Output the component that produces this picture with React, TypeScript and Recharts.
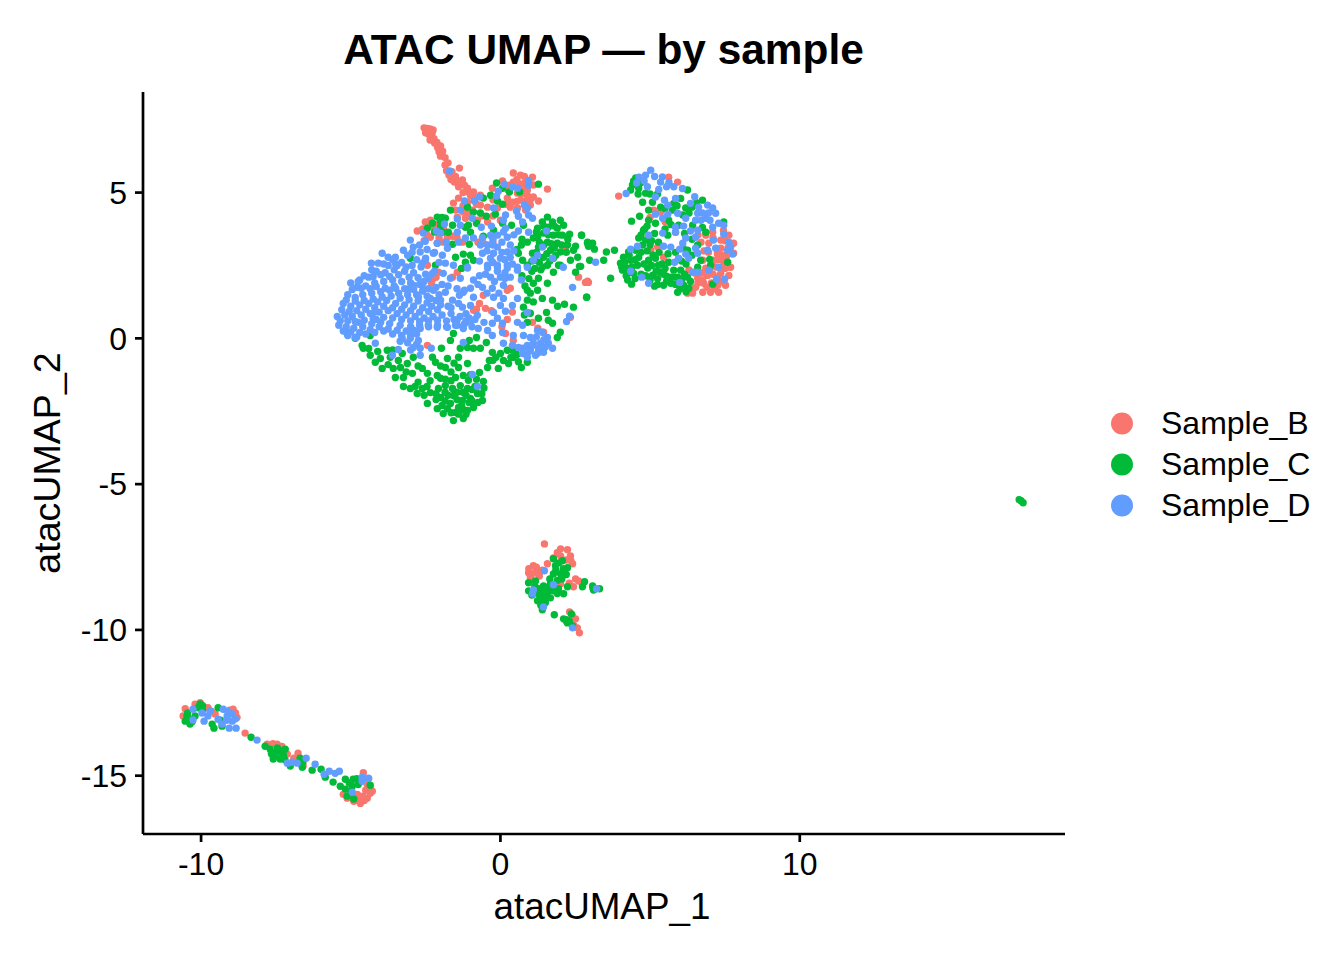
import React from "react";
import { ScatterChart, Scatter, XAxis, YAxis } from "recharts";

type P = [number, number];

const FONT = '"Liberation Sans", Arial, sans-serif';
const seriesNames = ["Sample_B", "Sample_C", "Sample_D"];
const seriesColors = ["#F8766D", "#00BA38", "#619CFF"];
const xTicks = [-10, 0, 10];
const yTicks = [-15, -10, -5, 0, 5];
const xDomain = [-11.94, 18.86];
const yDomain = [-17.0, 8.45];

// Sample_B
const bTail: P[] = [[-2.55,7.22],[-2.45,7.2],[-2.35,7.18],[-2.25,7.15],[-2.5,7.05],[-2.4,7.0],[-2.3,6.95],[-2.35,6.8],[-2.2,6.7],[-2.1,6.55],[-2.05,6.4],[-2.0,6.25],[-1.85,6.2],[-1.85,5.95],[-1.8,5.75],[-1.72,5.6],[-1.37,5.84],[-1.65,5.45],[-1.54,5.36],[-1.27,5.43],[-1.4,5.2],[-1.1,5.15],[-1.25,5.0],[-0.9,5.02],[-2.28,7.05],[-2.22,6.85],[-2.12,6.72],[-2.0,6.6],[-1.93,6.42],[-1.75,6.02],[-1.62,5.72],[-1.5,5.55],[-1.42,5.38],[-1.2,5.25],[-1.05,5.0]];
const bTop: P[] = [[0.43,5.67],[0.67,5.6],[1.07,5.53],[0.07,5.4],[1.57,5.12],[0.84,5.36],[0.43,5.36],[1.1,5.26],[0.9,5.09],[0.57,4.98],[0.23,4.81],[-0.27,5.15],[0.4,4.67],[0.67,4.74],[1.1,4.85],[1.27,4.71],[1.0,4.57],[0.57,4.47],[0.33,4.5],[0.84,4.4],[0.25,5.1],[0.75,5.15],[-0.9,4.85],[-0.67,4.91],[-1.4,4.81],[-1.1,4.67],[-1.57,4.64],[-0.67,4.57],[-0.43,4.5],[-1.24,4.33],[-0.94,4.4],[-0.1,4.47],[-1.44,4.16],[-2.34,4.05],[-2.51,3.99],[-2.78,3.68],[-1.17,4.12],[-0.77,4.05],[-0.43,3.99],[0.0,4.05],[-1.77,3.47],[-1.6,3.5],[-1.27,3.3],[-1.91,3.3],[-2.34,3.47],[-2.11,3.26],[-0.57,3.26],[2.17,3.02],[-2.6,3.75],[-2.2,3.8],[0.55,5.45],[0.8,5.55],[0.95,5.42],[0.65,5.3],[0.3,5.25],[0.9,4.9],[0.7,4.95],[1.0,4.75],[0.8,4.7],[0.55,4.7],[0.85,4.55],[0.2,4.6],[-0.25,4.75],[-1.0,4.9],[-1.25,4.55],[-0.8,4.6],[-1.5,4.4],[-1.05,4.3],[-0.6,4.2],[-0.25,4.2],[-2.4,3.85],[-2.15,3.9],[-1.9,3.75],[-2.45,3.55],[-2.55,3.35],[-2.05,3.45],[-1.45,3.45],[-0.75,3.3],[-0.25,3.3]];
const bMid: P[] = [[-2.24,2.06],[-2.07,2.27],[-1.44,2.27],[-2.44,2.51],[0.23,1.65],[0.33,1.72],[-0.57,1.48],[-0.5,1.03],[-0.9,0.96],[0.23,0.65],[1.07,0.55],[1.44,0.21],[0.17,0.17],[0.43,-0.07],[-2.44,-0.24],[2.88,1.92],[2.94,1.92],[2.61,2.1],[2.34,0.72],[-2.3,1.9],[-0.3,0.95],[0.4,0.9],[1.25,0.35],[-2.15,2.1],[-1.6,2.1],[-0.7,1.2],[-0.8,1.0],[0.05,0.4]];
const bRight: P[] = [[6.52,1.75],[6.42,1.55],[6.76,1.58],[7.02,1.58],[7.29,1.58],[6.59,2.06],[6.79,1.89],[6.92,2.16],[7.26,1.82],[7.52,1.82],[7.63,2.16],[7.36,2.23],[7.69,2.44],[7.46,2.61],[7.12,2.68],[6.86,2.41],[6.52,2.23],[6.76,2.68],[6.86,3.54],[7.09,3.64],[7.36,3.37],[7.63,3.54],[7.79,3.26],[7.79,2.92],[7.36,3.09],[6.96,3.26],[7.1,2.2],[6.75,2.0],[7.05,1.9],[7.5,2.4],[7.2,2.45],[5.62,5.53],[5.92,5.36],[5.35,4.33],[5.12,4.4],[5.85,3.64],[5.25,3.13],[5.02,3.02],[5.45,2.78],[3.95,4.88],[2.84,1.92],[2.91,1.96],[6.25,1.55],[6.4,1.7],[7.45,3.7],[7.6,3.1],[6.7,3.3],[6.6,1.9],[6.9,1.75],[7.15,1.7],[7.4,1.95],[7.25,2.1],[6.75,2.25],[7.0,2.4],[7.3,2.7],[7.55,2.8],[7.6,2.45],[6.95,2.95],[7.25,2.9],[7.45,2.85],[7.1,3.45],[7.5,3.35],[6.8,3.0],[6.6,3.55],[5.5,4.0],[5.0,4.15],[6.3,2.35]];
const bSmall: P[] = [[1.47,-7.05],[2.01,-7.22],[2.24,-7.25],[2.34,-7.46],[1.77,-7.53],[2.01,-7.46],[2.41,-7.73],[1.1,-7.8],[0.94,-8.04],[1.24,-7.97],[1.0,-8.2],[1.57,-7.73],[1.3,-8.15],[2.51,-8.25],[2.74,-8.42],[2.44,-8.52],[2.61,-8.32],[2.01,-8.42],[2.31,-9.38],[2.51,-9.62],[2.57,-9.93],[2.64,-10.1],[2.2,-9.7],[3.08,-8.55],[2.2,-7.6],[2.35,-7.62],[1.9,-7.35],[1.2,-7.85],[1.4,-7.95],[0.95,-7.9],[1.15,-8.05],[2.3,-8.4],[2.45,-9.85],[2.4,-9.5]];
const bStrand: P[] = [[-10.03,-12.5],[-10.53,-12.7],[-10.6,-12.95],[-9.77,-12.67],[-9.53,-12.88],[-8.93,-12.72],[-8.8,-13.0],[-8.53,-13.54],[-7.79,-13.92],[-7.46,-13.92],[-7.12,-14.26],[-6.76,-14.23],[-6.59,-14.67],[-5.12,-15.77],[-4.9,-15.88],[-4.68,-15.95],[-4.45,-15.77],[-4.28,-15.53],[-4.58,-14.9],[-4.45,-15.3],[-4.35,-15.6],[-4.78,-15.64],[-5.25,-15.64],[-4.6,-15.7],[-10.2,-12.55],[-9.65,-12.8],[-9.05,-12.75],[-8.85,-12.85],[-7.6,-13.9],[-7.3,-14.0],[-6.9,-14.4],[-6.7,-14.5],[-5.0,-15.7],[-4.75,-15.85],[-4.55,-15.85],[-4.35,-15.45],[-4.4,-15.1],[-4.5,-15.5]];
const sampleB: P[] = [...bTail, ...bTop, ...bMid, ...bRight, ...bSmall, ...bStrand];

// Sample_C
const cBottom: P[] = [[-1.57,-2.82],[-1.24,-2.75],[-1.91,-2.58],[-2.11,-2.41],[-2.44,-2.23],[-2.78,-1.89],[-3.24,-1.65],[-3.01,-1.72],[-2.61,-1.72],[-2.34,-1.86],[-2.0,-2.03],[-1.67,-2.23],[-1.4,-2.37],[-1.1,-2.47],[-0.9,-2.37],[-0.6,-2.13],[-0.77,-1.89],[-1.0,-2.06],[-1.27,-2.13],[-1.57,-1.96],[-1.77,-2.41],[-1.5,-2.54],[-1.24,-2.44],[-2.07,-1.72],[-1.84,-1.62],[-1.6,-1.72],[-2.0,-1.37],[-2.11,-1.27],[-1.84,-1.4],[-1.34,-1.62],[-1.1,-1.72],[-1.07,-1.44],[-1.24,-1.27],[-1.5,-1.34],[-0.57,-1.48],[-0.7,-1.17],[-0.8,-1.4],[-1.1,-0.86],[-1.4,-1.0],[-1.4,-0.65],[-1.77,-0.69],[-1.84,-1.0],[-2.27,-0.65],[-2.17,-0.82],[-2.61,-1.03],[-2.44,-1.2],[-2.94,-1.2],[-3.24,-1.34],[-3.51,-1.34],[-3.58,-1.03],[-3.95,-1.03],[-4.18,-0.82],[-4.35,-0.58],[-4.58,-0.34],[-4.62,-0.24],[-4.01,-0.69],[-3.41,-0.76],[-3.11,-0.86],[-3.34,-1.0],[-3.68,-0.65],[-3.78,-0.41],[-3.28,-0.52],[-2.91,-0.65],[-1.97,-0.34],[-1.67,-0.07],[-1.57,0.17],[-1.34,-0.34],[-1.1,-0.31],[-0.9,-0.34],[-0.67,-0.34],[-1.04,-0.07],[-0.8,0.03],[-0.47,-0.14],[-0.27,-0.48],[-0.37,-0.76],[-0.07,-1.03],[-0.43,-1.0],[0.0,-0.52],[0.23,-0.41],[0.1,-0.76],[0.27,-0.86],[0.43,-0.65],[0.7,-1.0],[0.4,-0.41],[0.9,-0.82],[-5.12,0.17],[-4.85,0.0],[-4.35,0.1],[-2.35,-1.45],[-2.75,-1.5],[-2.15,-2.1],[-1.85,-2.15],[-1.05,-2.2],[-1.45,-2.1],[-0.85,-1.65],[-1.65,-1.45],[-2.45,-1.65],[-1.4,-2.6],[-1.65,-2.55],[-1.95,-2.3],[-1.3,-2.3],[-1.15,-2.6],[-0.95,-2.15],[-0.75,-2.2],[-0.62,-1.9],[-1.15,-1.95],[-1.45,-1.85],[-1.75,-1.95],[-2.15,-1.9],[-2.55,-1.95],[-2.85,-1.65],[-1.85,-1.85],[-1.25,-1.85],[-0.95,-1.75],[-0.55,-1.7],[-1.0,-1.25],[-1.65,-1.15],[-1.55,-0.85],[-2.0,-0.95],[-2.75,-0.95],[-3.15,-1.15],[-3.75,-0.9],[-3.6,-0.4],[-4.1,-0.45],[-4.4,-0.35],[-0.25,-0.75],[0.55,-0.55],[0.35,-0.65],[0.6,-0.8],[-0.15,-0.65]];
const cStream: P[] = [[0.9,1.31],[1.0,1.55],[1.24,1.65],[1.1,1.89],[1.4,1.37],[1.74,1.31],[1.91,1.1],[2.14,1.17],[2.44,1.07],[1.54,0.89],[1.27,0.69],[1.6,0.62],[1.74,0.52],[2.0,0.21],[1.9,0.03],[1.0,0.86],[0.77,1.07],[0.9,0.55],[1.57,1.89],[1.27,2.06],[1.77,2.27],[2.0,2.51],[2.34,2.68],[2.51,2.27],[2.88,1.41],[0.82,1.8],[1.05,2.3],[0.72,2.15],[1.35,2.35],[0.95,2.05],[0.9,1.65],[1.1,1.25],[0.8,0.8]];
const cBlob: P[] = [[1.57,4.16],[1.4,3.99],[1.74,3.99],[2.0,4.05],[2.11,3.88],[1.6,3.81],[1.9,3.78],[1.24,3.78],[1.44,3.61],[1.77,3.54],[2.07,3.54],[2.31,3.57],[1.1,3.44],[1.57,3.3],[1.9,3.26],[2.24,3.2],[2.51,3.16],[2.44,3.02],[0.9,3.3],[1.27,3.13],[1.67,3.02],[2.0,2.96],[1.07,2.92],[1.44,2.78],[1.77,2.75],[2.58,2.78],[1.14,2.68],[1.57,2.51],[0.9,2.51],[1.94,2.51],[2.64,2.47],[2.71,3.54],[2.91,3.26],[1.25,3.5],[1.8,3.1],[1.45,3.2],[1.15,2.4],[1.45,3.85],[1.8,3.85],[1.6,3.55],[1.95,3.55],[1.3,3.3],[1.7,3.25],[2.05,3.2],[1.2,2.95],[1.55,2.9],[1.85,2.85],[1.3,2.6],[1.65,2.65],[1.4,2.45],[1.05,2.65],[1.2,3.65],[2.25,3.4],[2.2,2.95]];
const cTop: P[] = [[-0.13,5.33],[1.27,5.29],[0.64,5.02],[0.3,5.02],[0.07,5.15],[-0.33,4.91],[-0.57,4.81],[-0.1,4.71],[0.07,4.6],[-1.1,4.5],[-1.67,4.4],[-0.9,4.33],[-0.67,4.3],[-0.47,4.19],[-0.17,4.26],[-1.84,4.12],[-2.11,4.16],[-2.27,3.95],[-2.44,3.78],[-0.8,3.95],[-1.07,3.88],[-1.6,3.88],[0.37,3.88],[0.07,3.95],[0.77,3.88],[-1.94,3.64],[-1.74,3.64],[-1.17,3.81],[-0.57,3.5],[-1.0,3.64],[-0.23,3.71],[-1.6,3.23],[-1.04,3.23],[-1.5,2.78],[-1.24,2.89],[-1.17,2.61],[-0.9,2.68],[-2.17,2.51],[-3.01,2.75],[0.6,2.92],[0.74,2.68],[-2.0,4.0],[-2.2,3.65],[-2.0,3.85],[-1.95,4.15],[-1.3,2.4],[-1.0,2.85],[0.7,3.2],[0.72,3.4],[0.55,3.05]];
const cRight: P[] = [[4.01,2.58],[4.11,2.78],[4.08,2.34],[4.28,2.96],[4.35,2.68],[4.25,2.41],[4.45,2.23],[4.58,2.51],[4.62,2.78],[4.52,3.02],[4.75,3.2],[4.62,3.44],[4.85,3.37],[4.78,3.71],[4.95,2.68],[4.92,2.41],[5.08,2.16],[5.18,2.75],[5.28,2.51],[5.35,2.27],[5.55,2.13],[5.62,2.61],[5.79,2.34],[5.69,1.89],[5.92,2.1],[6.02,2.34],[6.12,1.82],[6.29,1.72],[5.92,1.58],[6.25,2.1],[5.15,1.79],[5.45,1.82],[4.38,1.86],[3.68,2.06],[3.81,3.02],[3.54,2.96],[3.45,2.68],[3.14,3.06],[3.08,3.26],[2.91,3.3],[2.94,3.16],[2.98,2.68],[2.88,1.41],[2.71,3.54],[2.68,2.47],[4.52,5.5],[4.41,5.26],[4.35,5.09],[4.62,5.15],[4.85,4.98],[4.75,4.67],[5.08,4.67],[4.95,4.4],[4.65,4.19],[4.38,4.02],[4.95,4.05],[4.82,3.75],[5.18,3.95],[5.35,4.5],[5.62,4.05],[5.79,4.63],[6.02,4.8],[6.25,5.09],[6.19,4.47],[6.09,4.23],[5.95,3.88],[5.59,3.54],[5.28,3.3],[6.42,3.88],[6.75,4.74],[6.86,3.64],[6.59,3.2],[6.25,3.02],[7.46,3.99],[6.69,2.68],[6.99,2.71],[7.02,2.51],[7.59,2.61],[6.59,2.44],[7.09,1.86],[4.3,2.25],[4.15,2.6],[4.4,2.45],[4.2,2.15],[4.7,2.2],[4.8,2.55],[5.0,2.0],[5.4,2.55],[5.7,2.1],[6.05,2.0],[4.05,2.45],[4.5,2.7],[4.3,2.85],[4.5,2.05],[4.25,2.0],[4.7,2.95],[4.9,3.0],[5.05,2.5],[5.1,2.85],[4.85,2.15],[5.25,2.05],[5.5,2.4],[5.8,2.1],[6.15,2.2],[6.0,1.7],[6.35,1.95],[5.55,1.95],[5.25,1.85],[4.45,5.4],[4.7,5.35],[4.6,4.95],[5.0,4.95],[5.25,4.95],[5.5,4.45],[5.75,4.4],[5.9,4.55],[6.3,4.3],[6.4,4.5],[6.55,4.65],[5.7,3.9],[5.5,3.75],[5.15,3.6],[6.15,3.6],[6.75,3.8],[6.4,3.4],[6.1,3.1],[6.4,2.85],[6.05,2.65],[4.9,3.85],[5.05,3.35],[5.0,3.2],[4.7,3.55],[5.3,2.95],[5.6,2.9],[5.85,2.95],[6.2,2.55],[5.45,2.2],[5.85,1.85],[6.2,1.6],[5.2,2.3]];
const cSmall: P[] = [[1.77,-7.56],[2.07,-7.63],[2.24,-7.87],[1.84,-7.8],[2.01,-8.08],[1.77,-8.08],[2.2,-8.1],[0.94,-8.38],[1.17,-8.32],[1.44,-8.49],[1.67,-8.42],[1.27,-8.59],[1.57,-8.73],[1.77,-8.66],[1.94,-8.59],[0.94,-8.66],[1.34,-8.83],[1.67,-8.9],[1.24,-9.0],[1.5,-9.07],[2.11,-8.76],[2.24,-8.52],[2.74,-8.52],[2.81,-8.35],[3.08,-8.49],[3.11,-8.63],[3.31,-8.59],[1.4,-9.31],[1.8,-9.48],[2.37,-9.45],[2.11,-9.62],[2.24,-9.76],[2.41,-9.86],[1.45,-8.75],[1.9,-8.3],[1.25,-8.75],[1.85,-7.95],[2.1,-7.9],[1.95,-7.7],[2.05,-8.25],[1.65,-8.25],[1.4,-8.65],[1.55,-8.9],[1.35,-9.0],[1.15,-8.5],[1.05,-8.8],[1.35,-9.15],[1.75,-8.5],[1.9,-8.75],[1.55,-8.55],[2.2,-9.65],[2.3,-9.7]];
const cStrand: P[] = [[-10.03,-12.54],[-10.47,-12.95],[-10.53,-13.13],[-10.37,-13.23],[-10.2,-12.95],[-10.1,-12.67],[-9.43,-12.67],[-9.63,-13.23],[-9.57,-13.37],[-9.3,-13.3],[-8.33,-13.68],[-7.86,-13.99],[-7.69,-14.09],[-7.53,-14.23],[-7.36,-14.16],[-7.19,-14.09],[-7.59,-14.43],[-7.36,-14.43],[-7.02,-14.67],[-6.69,-14.4],[-6.62,-14.71],[-6.29,-14.81],[-5.99,-14.78],[-5.85,-15.05],[-5.59,-15.22],[-5.35,-15.36],[-5.18,-15.46],[-5.18,-15.12],[-4.92,-15.12],[-4.95,-15.36],[-4.75,-15.3],[-4.35,-15.33],[-4.9,-15.8],[-5.12,-15.7],[17.39,-5.57],[17.33,-5.53],[17.46,-5.64],[-10.4,-13.05],[-10.3,-13.15],[-10.45,-12.85],[-9.95,-12.6],[-9.95,-12.75],[-9.35,-13.1],[-7.5,-14.3],[-7.25,-14.3],[-7.45,-14.05],[-7.65,-14.25],[-7.2,-14.45],[-6.6,-14.55],[-5.05,-15.25],[-4.8,-15.1],[-5.0,-15.55],[-4.7,-15.2]];
const sampleC: P[] = [...cBottom, ...cStream, ...cBlob, ...cTop, ...cRight, ...cSmall, ...cStrand];

// Sample_D
const dLeft: P[] = [[-3.1,2.85],[-2.8,2.7],[-3.6,2.7],[-3.3,2.6],[-2.5,2.75],[-2.2,2.95],[-2.05,2.6],[-3.9,2.55],[-2.65,2.45],[-4.7,2.0],[-4.4,2.1],[-4.15,2.3],[-3.85,2.25],[-3.55,2.35],[-3.2,2.3],[-2.9,2.25],[-2.5,2.2],[-2.2,2.3],[-5.0,1.9],[-4.8,1.75],[-4.5,1.8],[-4.2,1.9],[-3.9,1.95],[-3.6,2.0],[-3.3,1.95],[-3.0,1.9],[-2.7,1.85],[-5.1,1.5],[-4.85,1.4],[-4.6,1.5],[-4.3,1.55],[-4.0,1.6],[-3.7,1.65],[-3.4,1.55],[-3.1,1.5],[-2.8,1.5],[-2.45,1.45],[-5.25,1.2],[-5.0,1.1],[-4.7,1.15],[-4.4,1.2],[-4.1,1.25],[-3.8,1.3],[-3.5,1.2],[-3.2,1.15],[-2.9,1.1],[-2.6,1.05],[-2.3,1.1],[-2.0,1.15],[-5.45,0.75],[-5.2,0.8],[-4.95,0.75],[-4.65,0.8],[-4.35,0.85],[-4.05,0.9],[-3.75,0.95],[-3.45,0.85],[-3.15,0.8],[-2.85,0.75],[-2.55,0.7],[-2.25,0.75],[-1.95,0.8],[-1.65,0.85],[-1.35,0.75],[-1.05,0.7],[-5.4,0.45],[-5.15,0.4],[-4.9,0.35],[-4.6,0.4],[-4.3,0.5],[-4.0,0.55],[-3.7,0.5],[-3.35,0.45],[-3.0,0.4],[-2.7,0.45],[-2.4,0.4],[-2.1,0.45],[-1.8,0.4],[-1.5,0.45],[-1.2,0.5],[-0.95,0.4],[-5.1,0.1],[-4.8,0.05],[-4.5,0.15],[-4.2,0.2],[-3.9,0.25],[-3.6,0.15],[-3.0,0.1],[-2.8,0.15],[-3.3,0.1],[-4.75,1.95],[-3.05,1.7],[-3.55,1.8],[-4.2,1.05],[-4.75,0.55],[-4.15,0.65],[-4.55,2.15],[-4.25,2.12],[-4.0,2.18],[-3.7,2.12],[-3.4,2.18],[-3.05,2.1],[-2.75,2.08],[-4.95,1.68],[-4.65,1.72],[-4.35,1.7],[-4.15,1.78],[-3.85,1.72],[-3.5,1.72],[-3.2,1.7],[-2.9,1.68],[-2.6,1.62],[-5.15,1.32],[-4.85,1.28],[-4.55,1.3],[-4.25,1.35],[-3.95,1.42],[-3.65,1.45],[-3.35,1.38],[-3.05,1.32],[-2.75,1.28],[-2.45,1.22],[-2.15,1.3],[-5.3,0.98],[-5.05,0.92],[-4.8,0.95],[-4.5,1.0],[-4.2,0.9],[-3.9,1.1],[-3.6,1.05],[-3.3,1.0],[-3.0,0.95],[-2.7,0.9],[-2.4,0.92],[-2.1,0.98],[-5.35,0.6],[-5.1,0.6],[-4.85,0.58],[-4.55,0.62],[-4.25,0.68],[-3.9,0.72],[-3.6,0.7],[-3.3,0.65],[-3.0,0.6],[-2.7,0.58],[-2.4,0.6],[-2.1,0.62],[-1.8,0.6],[-1.45,0.62],[-1.15,0.6],[-5.25,0.25],[-5.0,0.22],[-4.7,0.2],[-4.35,0.3],[-4.05,0.4],[-3.75,0.32],[-3.45,0.28],[-3.15,0.25],[-2.9,0.28],[-3.35,-0.1],[-3.1,-0.15],[-3.0,-0.4],[-2.8,-0.2],[-3.75,2.5],[-3.45,2.5],[-3.15,2.45],[-2.95,2.5],[-4.3,2.35],[-2.4,2.05],[-2.55,1.95],[-2.4,1.7],[-2.15,1.75],[-1.95,1.85],[-1.75,1.8]];
const dMidTop: P[] = [[-1.7,5.74],[0.94,5.4],[0.94,5.25],[0.13,5.29],[0.4,5.19],[0.57,5.15],[-0.07,5.05],[-0.13,4.88],[-0.7,4.85],[-0.87,4.71],[-1.2,4.71],[-0.23,4.47],[0.8,4.57],[0.9,4.47],[-1.34,4.4],[0.54,4.36],[0.17,4.23],[0.6,4.19],[0.94,4.23],[1.07,4.12],[0.74,3.99],[-0.94,4.12],[-1.44,4.09],[0.1,4.05],[-1.87,3.92],[-1.34,3.88],[-0.64,3.81],[-0.3,3.85],[0.17,3.78],[-2.14,3.68],[-1.44,3.64],[0.6,3.68],[0.94,3.64],[1.54,3.68],[-2.58,3.61],[-2.0,3.61],[-0.1,3.54],[-0.33,3.54],[0.23,3.47],[-1.17,3.44],[-0.9,3.44],[-3.01,3.37],[-2.51,3.33],[-2.11,3.26],[-1.81,3.3],[-1.4,3.3],[-2.91,3.13],[-1.77,3.09],[-0.67,3.2],[-0.1,3.13],[-0.43,3.2],[0.33,3.2],[1.4,3.13],[-3.24,3.02],[-2.68,2.96],[-2.24,2.92],[-1.94,2.85],[-0.6,2.92],[-0.23,2.92],[0.23,2.96],[1.24,2.85],[1.1,2.68],[1.74,2.75],[-3.95,2.92],[-3.75,2.78],[-3.51,2.78],[-2.51,2.68],[-1.84,2.58],[-0.33,2.75],[0.0,2.75],[0.33,2.78],[-0.43,2.51],[-0.1,2.51],[0.23,2.51],[-4.31,2.58],[-4.08,2.58],[0.57,2.44],[0.9,2.44],[2.1,2.44],[-1.57,2.51],[-1.1,2.44],[-0.25,3.2],[0.05,3.3],[0.15,2.7],[-0.25,2.6],[0.05,2.95],[-2.7,3.2],[-2.95,2.95],[-2.45,3.05],[-3.5,2.55],[-0.45,3.0],[-0.25,3.4],[0.45,3.0],[0.4,2.55],[-0.7,2.65],[0.1,3.65],[0.45,3.55],[-0.6,3.45]];
const dMidLow: P[] = [[-1.1,2.41],[-0.43,2.41],[-0.1,2.44],[0.23,2.41],[0.57,2.34],[-0.33,2.1],[0.0,2.1],[0.33,2.1],[0.7,2.0],[-0.9,2.0],[-1.34,2.06],[-1.67,2.06],[-1.91,2.23],[-2.61,2.58],[-2.27,2.23],[-1.0,1.72],[-0.6,1.75],[-0.27,1.72],[0.1,1.82],[-1.24,1.58],[-0.9,1.41],[-0.23,1.41],[0.1,1.37],[2.41,1.75],[-1.37,1.48],[-1.84,1.58],[-2.24,1.65],[-2.58,1.72],[-2.91,1.82],[-1.6,1.31],[-2.0,1.31],[-2.34,1.37],[-2.74,1.41],[0.57,1.37],[0.4,1.13],[0.0,1.13],[-1.27,1.07],[-1.0,1.13],[0.17,0.93],[-0.23,0.89],[0.9,0.89],[-0.77,0.79],[-0.1,0.69],[0.07,0.52],[-0.27,0.52],[0.57,0.55],[0.74,0.45],[-0.74,0.34],[-0.43,0.27],[-0.27,0.1],[0.07,0.2],[-1.0,0.55],[-1.24,0.34],[-1.44,0.45],[-1.77,0.38],[-2.11,0.38],[-2.41,0.45],[-2.68,0.34],[-2.94,0.21],[-2.74,-0.07],[-3.01,0.0],[-3.28,0.0],[-2.68,-0.34],[-2.91,-0.31],[-3.41,-0.38],[-4.18,-0.17],[-4.85,0.03],[-3.61,-0.58],[-2.68,-0.58],[-2.31,-0.34],[-1.24,-0.14],[-0.94,-1.24],[-0.77,-1.65],[0.1,-0.17],[0.4,-0.24],[0.6,-0.31],[0.77,0.1],[1.0,0.03],[1.24,0.27],[1.4,0.21],[0.43,0.1],[1.57,0.03],[0.9,-0.24],[1.1,-0.17],[1.34,-0.17],[1.6,-0.17],[1.74,-0.34],[1.44,-0.48],[1.17,-0.58],[0.9,-0.65],[0.74,-0.52],[0.74,-0.34],[1.0,-0.41],[1.27,-0.34],[2.31,0.76],[2.21,0.58],[-0.1,2.3],[0.15,2.25],[-0.5,2.2],[-0.75,1.85],[-0.45,1.55],[-1.45,1.7],[-2.05,1.5],[-1.75,1.1],[-1.4,1.2],[1.2,0.05],[1.45,-0.05],[1.05,-0.25],[1.25,-0.5],[0.95,-0.45],[1.5,-0.3],[-1.55,0.65],[-1.65,1.05],[-1.15,0.85],[-0.85,0.65],[-0.55,0.55],[-1.2,1.65],[-0.7,2.15],[-0.2,1.95],[0.15,2.05],[-0.05,1.55]];
const dRight: P[] = [[5.02,5.77],[4.85,5.6],[4.63,5.53],[4.55,5.33],[4.2,4.97],[5.41,5.54],[5.63,5.35],[5.35,5.36],[4.91,5.2],[5.29,5.11],[5.79,5.2],[6.08,5.14],[5.18,4.85],[5.48,4.74],[5.85,4.8],[6.49,4.86],[5.59,4.57],[6.35,4.63],[6.62,4.5],[6.92,4.57],[7.09,4.47],[7.19,4.29],[6.59,4.29],[5.92,4.29],[5.59,4.26],[5.18,4.26],[6.86,4.12],[6.52,4.05],[6.19,4.12],[5.42,4.12],[7.29,3.95],[7.09,3.81],[6.12,3.85],[5.85,3.81],[7.46,3.88],[6.59,3.71],[6.35,3.68],[5.85,3.64],[5.42,3.61],[4.95,3.54],[7.46,3.57],[6.52,3.47],[6.19,3.44],[7.12,3.37],[7.63,3.3],[6.09,3.26],[5.45,3.16],[5.69,3.13],[7.69,3.13],[6.52,3.09],[7.19,3.09],[5.99,3.06],[6.92,3.02],[6.59,2.92],[7.59,3.02],[4.35,3.06],[4.58,3.16],[6.19,2.89],[7.76,2.89],[5.95,2.75],[5.82,2.61],[6.29,2.75],[7.29,2.44],[6.96,2.34],[6.42,2.27],[6.59,2.27],[4.35,2.3],[4.72,2.1],[7.22,2.03],[7.49,2.03],[5.99,1.92],[4.95,1.89],[3.18,2.61],[5.15,5.55],[4.8,5.4],[5.55,5.2],[6.75,4.3],[6.95,4.3],[6.7,4.05],[7.0,4.05]];
const dSmall: P[] = [[1.47,-7.97],[1.77,-8.45],[1.1,-8.63],[1.07,-8.76],[1.44,-9.21],[3.21,-8.59],[2.41,-9.93]];
const dStrand: P[] = [[-10.27,-12.72],[-9.97,-12.85],[-10.27,-13.09],[-9.9,-13.13],[-9.7,-12.78],[-9.77,-12.95],[-9.43,-13.06],[-9.26,-12.72],[-9.13,-12.95],[-8.96,-12.88],[-9.3,-13.23],[-9.06,-13.37],[-8.83,-13.37],[-8.96,-13.13],[-8.85,-13.05],[-8.13,-13.78],[-7.12,-14.57],[-6.96,-14.54],[-6.79,-14.57],[-6.49,-14.4],[-6.19,-14.61],[-5.89,-14.95],[-5.72,-14.85],[-5.52,-14.92],[-5.38,-14.85],[-4.62,-15.19],[-4.62,-15.05],[-4.41,-15.09],[-4.95,-15.57],[-9.15,-13.1],[-9.1,-12.8]];
const sampleD: P[] = [...dLeft, ...dMidTop, ...dMidLow, ...dRight, ...dSmall, ...dStrand];

const seriesPoints: P[][] = [sampleB, sampleC, sampleD];

const toRows = (pts: P[]) => pts.map(([x, y]) => ({ x, y }));

const Dot = (color: string) => (props: any) => (
  <circle cx={props.cx} cy={props.cy} r={3.7} fill={color} />
);

const LegendBox = () => (
  <div style={{ position: "absolute", left: 1111, top: 402.5, fontFamily: FONT, fontSize: 32, color: "#000" }}>
    {seriesNames.map((n, i) => (
      <div key={n} style={{ display: "flex", alignItems: "center", height: 41 }}>
        <svg width={50} height={41} style={{ flex: "none" }}>
          <circle cx={11} cy={20.5} r={11} fill={seriesColors[i]} />
        </svg>
        <span>{n}</span>
      </div>
    ))}
  </div>
);

export default function App() {
  return (
    <div style={{ position: "absolute", left: 0, top: 0, width: 1344, height: 960, background: "#fff" }}>
      <div
        style={{
          position: "absolute",
          left: 143,
          width: 921,
          top: 25,
          textAlign: "center",
          fontFamily: FONT,
          fontWeight: 700,
          fontSize: 42.4,
          lineHeight: "50px",
          color: "#000",
        }}
      >
        ATAC UMAP — by sample
      </div>
      <ScatterChart
        width={1344}
        height={960}
        margin={{ top: 92, right: 279, bottom: 0, left: 0 }}
        style={{ fontFamily: FONT }}
      >
        <XAxis
          type="number"
          dataKey="x"
          domain={xDomain}
          ticks={xTicks}
          allowDataOverflow
          height={126}
          tickSize={8}
          tickMargin={10}
          tick={{ fill: "#000", fontSize: 32 }}
          tickLine={{ stroke: "#000", strokeWidth: 2.7 }}
          axisLine={{ stroke: "#000", strokeWidth: 2.7 }}
          label={{ value: "atacUMAP_1", position: "insideBottom", dx: -2, offset: 41, fill: "#000", fontSize: 36.8 }}
        />
        <YAxis
          type="number"
          dataKey="y"
          domain={yDomain}
          ticks={yTicks}
          allowDataOverflow
          width={143}
          tickSize={8}
          tickMargin={8}
          tick={{ fill: "#000", fontSize: 32 }}
          tickLine={{ stroke: "#000", strokeWidth: 2.7 }}
          axisLine={{ stroke: "#000", strokeWidth: 2.7 }}
          label={{ value: "atacUMAP_2", angle: -90, position: "insideLeft", offset: 47, fill: "#000", fontSize: 37.6, style: { textAnchor: "middle" } }}
        />
        {seriesNames.map((n, i) => (
          <Scatter
            key={n}
            name={n}
            data={toRows(seriesPoints[i])}
            fill={seriesColors[i]}
            shape={Dot(seriesColors[i])}
            isAnimationActive={false}
          />
        ))}
      </ScatterChart>
      <LegendBox />
    </div>
  );
}
